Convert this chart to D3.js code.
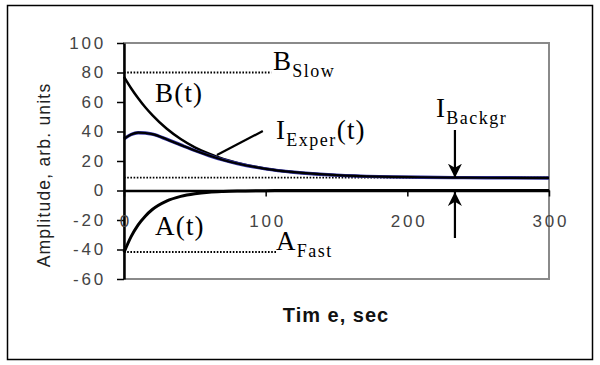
<!DOCTYPE html>
<html>
<head>
<meta charset="utf-8">
<script src="https://cdn.jsdelivr.net/npm/d3@7"></script>
<style>
  body { margin: 0; background: #fff; }
  svg { display: block; }
</style>
</head>
<body>
<div id="wrapper"></div>
<script>
// values
const times   = [0, 5, 10, 15, 20, 30, 40, 50, 60, 70, 80, 100, 120, 150, 180, 210, 240, 270, 300]
const bSlow   = [77.0, 69.3, 62.5, 56.4, 51.1, 42.0, 34.9, 29.3, 24.9, 21.4, 18.7, 14.8, 12.4, 10.4, 9.4, 9.0, 8.7, 8.6, 8.5]
const aFast   = [-42.0, -31.3, -23.3, -17.4, -12.9, -7.2, -4.0, -2.2, -1.2, -0.7, -0.4, -0.1, 0, 0, 0, 0, 0, 0, 0]
const iExper  = [35.0, 38.0, 39.2, 39.0, 38.2, 34.8, 30.9, 27.1, 23.7, 20.7, 18.3, 14.7, 12.4, 10.4, 9.4, 9.0, 8.7, 8.6, 8.5]

const xTicks = [0, 100, 200, 300]
const yTicks = [-60, -40, -20, 0, 20, 40, 60, 80, 100]

// dotted reference levels: value and where the dots stop (time)
const levelValues = [80, 8.7, -41.7]
const levelEnds   = [104, 300, 108]

// I_Backgr arrows (time, from, to) and I_Exper pointer
const arrowTime = 233.6
const arrowDown = [41, 8.7]
const arrowUp   = [-32.2, -1]
const pointerT  = [65.6, 98]
const pointerV  = [24.1, 40.3]

let dimensions = {
  width: 600,
  height: 365,
  margin: { top: 43, right: 51, bottom: 86, left: 124 },
}
dimensions.boundedWidth = dimensions.width - dimensions.margin.left - dimensions.margin.right
dimensions.boundedHeight = dimensions.height - dimensions.margin.top - dimensions.margin.bottom

const svg = d3.select("#wrapper")
  .append("svg")
    .attr("width", dimensions.width)
    .attr("height", dimensions.height)

svg.append("defs").append("marker")
    .attr("id", "head")
    .attr("viewBox", "0 0 10 10")
    .attr("refX", 10)
    .attr("refY", 5)
    .attr("markerUnits", "userSpaceOnUse")
    .attr("markerWidth", 14)
    .attr("markerHeight", 14)
    .attr("orient", "auto")
  .append("path")
    .attr("d", "M0,0 L10,5 L0,10 L3,5 Z")
    .attr("fill", "#000")

// outer frame
svg.append("rect")
    .attr("x", 7.5).attr("y", 5.5)
    .attr("width", 585).attr("height", 354)
    .attr("fill", "none")
    .attr("stroke", "#000")
    .attr("stroke-width", 1.5)

const xScale = d3.scaleLinear()
  .domain([0, 300])
  .range([dimensions.margin.left, dimensions.margin.left + dimensions.boundedWidth])

const yScale = d3.scaleLinear()
  .domain([-60, 100])
  .range([dimensions.margin.top + dimensions.boundedHeight, dimensions.margin.top])

// plot area border (grey)
svg.append("rect")
    .attr("x", xScale(0)).attr("y", yScale(100))
    .attr("width", xScale(300) - xScale(0))
    .attr("height", yScale(-60) - yScale(100))
    .attr("fill", "none")
    .attr("stroke", "#8a8a8a")
    .attr("stroke-width", 2)

// dotted levels
levelValues.forEach((v, i) => {
  svg.append("line")
      .attr("x1", xScale(0)).attr("x2", xScale(levelEnds[i]))
      .attr("y1", yScale(v)).attr("y2", yScale(v))
      .attr("stroke", "#000")
      .attr("stroke-width", 1.8)
      .attr("stroke-dasharray", "1.6,1.6")
})

const lineOf = vals => d3.line()
  .x((d, i) => xScale(times[i]))
  .y((d, i) => yScale(vals[i]))
  .curve(d3.curveMonotoneX)(vals)

svg.append("path").attr("d", lineOf(bSlow))
    .attr("fill", "none").attr("stroke", "#000").attr("stroke-width", 2.5)
svg.append("path").attr("d", lineOf(aFast))
    .attr("fill", "none").attr("stroke", "#000").attr("stroke-width", 3)
svg.append("path").attr("d", lineOf(iExper))
    .attr("fill", "none").attr("stroke", "#3030a0").attr("stroke-width", 3.4)
svg.append("path").attr("d", lineOf(iExper))
    .attr("fill", "none").attr("stroke", "#000").attr("stroke-width", 2.2)

// axes
const yAxis = d3.axisLeft(yScale)
  .tickValues(yTicks)
  .tickSize(7)
  .tickSizeOuter(0)
  .tickPadding(11)
  .tickFormat(d => String(d))

svg.append("g")
    .attr("transform", `translate(${xScale(0)},0)`)
    .call(yAxis)
    .call(g => g.select(".domain").attr("stroke-width", 2.5))
    .call(g => g.selectAll(".tick line").attr("stroke-width", 1.5))
    .call(g => g.selectAll("text")
      .attr("font-family", "Liberation Sans, Arial, sans-serif")
      .attr("font-size", 17)
      .attr("letter-spacing", 2.8)
      .attr("fill", "#444"))

const xAxis = d3.axisBottom(xScale)
  .tickValues(xTicks)
  .tickSize(6)
  .tickSizeOuter(0)
  .tickPadding(18)
  .tickFormat(d => String(d))

svg.append("g")
    .attr("transform", `translate(0,${yScale(0)})`)
    .call(xAxis)
    .call(g => g.select(".domain").attr("stroke-width", 2.5))
    .call(g => g.selectAll(".tick line").attr("stroke-width", 1.5))
    .call(g => g.selectAll("text")
      .attr("font-family", "Liberation Sans, Arial, sans-serif")
      .attr("font-size", 17)
      .attr("letter-spacing", 2.8)
      .attr("dx", 1.4)
      .attr("fill", "#444"))

// axis titles
svg.append("text")
    .attr("transform", "translate(50,175) rotate(-90)")
    .attr("text-anchor", "middle")
    .attr("font-family", "Liberation Sans, Arial, sans-serif")
    .attr("font-size", 17.5)
    .attr("letter-spacing", 1.2)
    .attr("fill", "#222")
    .text("Amplitude, arb. units")

svg.append("text")
    .attr("x", 336).attr("y", 322)
    .attr("text-anchor", "middle")
    .attr("font-family", "Liberation Sans, Arial, sans-serif")
    .attr("font-size", 20)
    .attr("font-weight", "bold")
    .attr("letter-spacing", 1)
    .attr("fill", "#111")
    .text("Tim e,  sec")

// I_Exper pointer and I_Backgr arrows
svg.append("line")
    .attr("x1", xScale(pointerT[0])).attr("y1", yScale(pointerV[0]))
    .attr("x2", xScale(pointerT[1])).attr("y2", yScale(pointerV[1]))
    .attr("stroke", "#000").attr("stroke-width", 2.2)

;[arrowDown, arrowUp].forEach(a => {
  svg.append("line")
      .attr("x1", xScale(arrowTime)).attr("y1", yScale(a[0]))
      .attr("x2", xScale(arrowTime)).attr("y2", yScale(a[1]))
      .attr("stroke", "#000").attr("stroke-width", 2.2)
      .attr("marker-end", "url(#head)")
})

// serif labels with subscripts
const serif = "Liberation Serif, Times New Roman, serif"
function label(x, y, main, sub, tail) {
  const t = svg.append("text")
      .attr("x", x).attr("y", y)
      .attr("font-family", serif)
      .attr("font-size", 27)
      .attr("letter-spacing", 1.2)
      .attr("fill", "#000")
  t.append("tspan").text(main)
  if (sub) t.append("tspan").attr("font-size", 18).attr("dy", 7).attr("letter-spacing", 1.5).text(sub)
  if (tail) t.append("tspan").attr("dy", -7).text(tail)
}

label(155, 102, "B(t)")
label(155, 235, "A(t)")
label(273, 70, "B", "Slow")
label(276, 250, "A", "Fast")
label(276, 139, "I", "Exper", "(t)")
label(436, 117, "I", "Backgr")
</script>
</body>
</html>
